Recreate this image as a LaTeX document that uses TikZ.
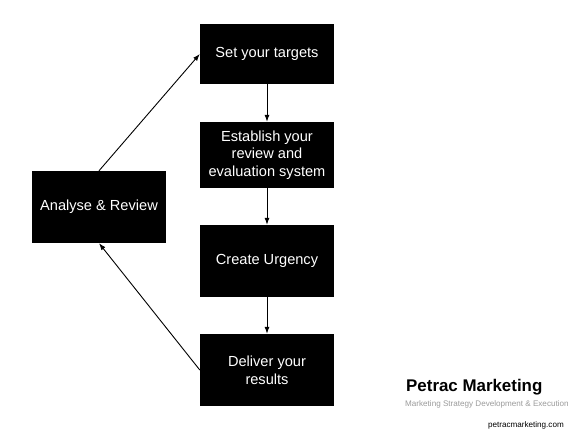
\documentclass[tikz,border=0pt]{standalone}
\usepackage{fontspec}
\setmainfont{Liberation Sans}
\usetikzlibrary{arrows.meta}
\definecolor{subgray}{RGB}{155,155,155}
\begin{document}
\begin{tikzpicture}[x=1pt,y=1pt,
 box/.style={fill=black, text=white, minimum width=134pt, inner sep=0pt, align=center, font=\fontsize{14.6}{17.7}\selectfont},
 arr/.style={-{Latex[length=7pt,width=5pt]}, line width=0.9pt}]
\useasboundingbox[fill=white] (0,0) rectangle (584,438);
\node[box, minimum height=60pt] (set) at (267, 384) {Set your targets};
\node[box, minimum height=66pt] (est) at (267, 283) {Establish your\\review and\\evaluation system};
\node[box, minimum height=72pt] (urg) at (267, 177) {Create Urgency};
\node[box, minimum height=72pt] (del) at (267, 68) {Deliver your\\results};
\node[box, minimum height=72pt] (ana) at (99, 231) {Analyse \& Review};
\draw[arr] (set) -- (est);
\draw[arr] (est) -- (urg);
\draw[arr] (urg) -- (del);
\draw[arr] (ana.north) -- (set.west);
\draw[arr] (del.west) -- (ana.south);
\node[anchor=base west, inner sep=0pt, font=\bfseries\fontsize{16.9}{20}\selectfont] (logo) at (406, 46) {Petrac Marketing};
\node[anchor=west, inner sep=0pt, text=subgray, font=\fontsize{8.1}{9}\selectfont] (sub) at (405, 34) {Marketing Strategy Development \& Execution};
\node[anchor=east, inner sep=0pt, font=\fontsize{8.1}{9}\selectfont] (url) at (564, 13) {petracmarketing.com};
\end{tikzpicture}
\end{document}
